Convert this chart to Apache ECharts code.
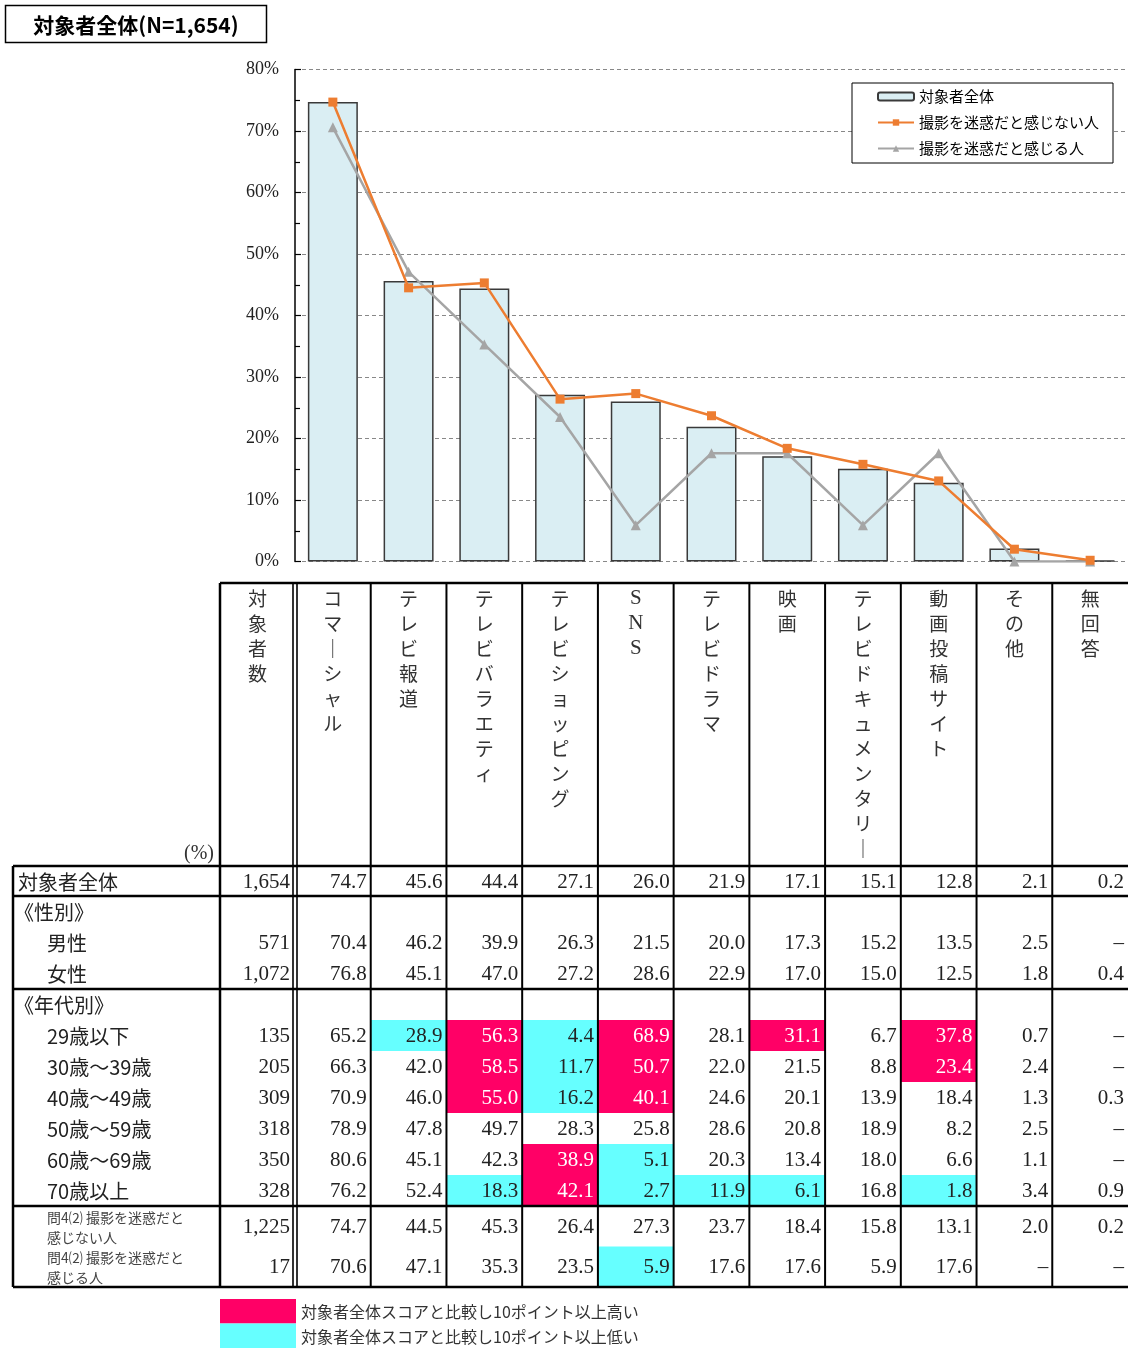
<!DOCTYPE html>
<html><head><meta charset="utf-8">
<script src="https://cdn.jsdelivr.net/npm/echarts@6/dist/echarts.min.js"></script>
<style>html,body{margin:0;padding:0;background:#fff}#c{width:1128px;height:1348px}</style>
</head><body><div id="c"></div>
<script>
// ---------------- DATA ----------------
const categories = ['コマーシャル','テレビ報道','テレビバラエティ','テレビショッピング','ＳＮＳ','テレビドラマ','映画','テレビドキュメンタリー','動画投稿サイト','その他','無回答'];
const yTickValues = [0,10,20,30,40,50,60,70,80];
const seriesNames = ['対象者全体','撮影を迷惑だと感じない人','撮影を迷惑だと感じる人'];

const rowLabels = ['対象者全体','《性別》','男性','女性','《年代別》','29歳以下','30歳～39歳','40歳～49歳','50歳～59歳','60歳～69歳','70歳以上','問4⑵ 撮影を迷惑だと\n感じない人','問4⑵ 撮影を迷惑だと\n感じる人'];
const rowCounts = [1654, null, 571, 1072, null, 135, 205, 309, 318, 350, 328, 1225, 17];

const totalValues  = [74.7, 45.6, 44.4, 27.1, 26.0, 21.9, 17.1, 15.1, 12.8, 2.1, 0.2];
const maleValues   = [70.4, 46.2, 39.9, 26.3, 21.5, 20.0, 17.3, 15.2, 13.5, 2.5, null];
const femaleValues = [76.8, 45.1, 47.0, 27.2, 28.6, 22.9, 17.0, 15.0, 12.5, 1.8, 0.4];
const age29Values  = [65.2, 28.9, 56.3, 4.4, 68.9, 28.1, 31.1, 6.7, 37.8, 0.7, null];
const age30Values  = [66.3, 42.0, 58.5, 11.7, 50.7, 22.0, 21.5, 8.8, 23.4, 2.4, null];
const age40Values  = [70.9, 46.0, 55.0, 16.2, 40.1, 24.6, 20.1, 13.9, 18.4, 1.3, 0.3];
const age50Values  = [78.9, 47.8, 49.7, 28.3, 25.8, 28.6, 20.8, 18.9, 8.2, 2.5, null];
const age60Values  = [80.6, 45.1, 42.3, 38.9, 5.1, 20.3, 13.4, 18.0, 6.6, 1.1, null];
const age70Values  = [76.2, 52.4, 18.3, 42.1, 2.7, 11.9, 6.1, 16.8, 1.8, 3.4, 0.9];
const notMindValues = [74.7, 44.5, 45.3, 26.4, 27.3, 23.7, 18.4, 15.8, 13.1, 2.0, 0.2];
const mindValues    = [70.6, 47.1, 35.3, 23.5, 5.9, 17.6, 17.6, 5.9, 17.6, null, null];

const rowValues = [totalValues, null, maleValues, femaleValues, null, age29Values, age30Values, age40Values, age50Values, age60Values, age70Values, notMindValues, mindValues];
const rowKinds  = ['main','group','item','item','group','item','item','item','item','item','item','q4','q4'];

const footNotes = ['対象者全体スコアと比較し10ポイント以上高い','対象者全体スコアと比較し10ポイント以上低い'];

// ---------------- LAYOUT / STYLE ----------------
const C_HIGH = '#FF0066', C_LOW = '#66FFFF';
const SERIF = '"Liberation Serif", "DejaVu Serif", serif';
const SANS = '"Noto Sans CJK JP", "Noto Sans", sans-serif';
const TBL = {left:13, top:583, w:1115, h:704, labelW:207, countW:75, headerH:283};
const ROW_H = {main:30, group:31, item:31, q4:40.5};

const colEdges = [0, TBL.labelW, TBL.labelW + TBL.countW];
const catW = (TBL.w - colEdges[2]) / categories.length;
for (let i = 1; i <= categories.length; i++) colEdges.push(colEdges[2] + i * catW);
const rowEdges = [0, TBL.headerH];
rowKinds.forEach(k => rowEdges.push(rowEdges[rowEdges.length - 1] + ROW_H[k]));

function fmtCount(n){ return n.toLocaleString('en-US'); }
function fmtVal(v){ return v === null ? '–' : v.toFixed(1); }
function vertical(s){ return s.replace(/ー/g,'｜').split('').join('\n'); }

// ---------------- TABLE CELLS ----------------
const cells = [];
cells.push({x0:0, y0:0, x1:colEdges[1], y1:rowEdges[1], text:'(%)', align:'right', valign:'bottom', pad:6, font:SERIF, size:20, color:'#333'});
cells.push({x0:colEdges[1], y0:0, x1:colEdges[2], y1:rowEdges[1], text:vertical('対象者数'), align:'center', valign:'top', font:SANS, size:19, lh:25, color:'#333'});
categories.forEach((cat, j) => {
  const isLatin = cat === 'ＳＮＳ';
  cells.push({x0:colEdges[j+2], y0:0, x1:colEdges[j+3], y1:rowEdges[1], text: isLatin ? vertical('SNS') : vertical(cat), align:'center', valign:'top', font: isLatin ? SERIF : SANS, size: isLatin ? 21 : 19, lh:25, color:'#333'});
});
rowLabels.forEach((lab, r) => {
  const y0 = rowEdges[r+1], y1 = rowEdges[r+2], kind = rowKinds[r];
  const indent = kind === 'main' ? 5 : kind === 'group' ? 1 : 34;
  cells.push({x0:0, y0, x1:colEdges[1], y1, text:lab, align:'left', pad:indent, valign:'middle', font:SANS, size: kind === 'q4' ? 14 : 20, lh: kind === 'q4' ? 20 : undefined, color: kind === 'q4' ? '#444' : '#222'});
  if (rowCounts[r] !== null) {
    cells.push({x0:colEdges[1], y0, x1:colEdges[2], y1, text:fmtCount(rowCounts[r]), align:'right', pad:5, valign:'middle', font:SERIF, size:21, color:'#222'});
  }
  const vals = rowValues[r];
  if (vals) {
    vals.forEach((v, j) => {
      let fill = null, color = '#222';
      if (r > 0 && v !== null) {
        const d = Math.round((v - totalValues[j]) * 10);
        if (d >= 100) { fill = C_HIGH; color = '#fff'; }
        else if (d <= -100) { fill = C_LOW; }
      }
      cells.push({x0:colEdges[j+2], y0, x1:colEdges[j+3], y1, text:fmtVal(v), align:'right', pad:4, valign:'middle', font:SERIF, size:21, color, fill});
    });
  }
});

// ---------------- TABLE BORDERS ----------------
const borders = [];
const bodyTop = rowEdges[1];
borders.push([colEdges[1], 0, TBL.w, 0, 2.5]);
[1, 2, 5, 12, 14].forEach(i => borders.push([0, rowEdges[i], TBL.w, rowEdges[i], 2.5]));
borders.push([0, bodyTop, 0, TBL.h, 2.5]);
borders.push([colEdges[1], 0, colEdges[1], TBL.h, 2.5]);
borders.push([colEdges[2]-2, 0, colEdges[2]-2, TBL.h, 1.6]);
borders.push([colEdges[2]+2, 0, colEdges[2]+2, TBL.h, 1.6]);
for (let i = 3; i < colEdges.length - 1; i++) borders.push([colEdges[i], 0, colEdges[i], TBL.h, 2]);

// ---------------- CHART ----------------
const chart = echarts.init(document.getElementById('c'), null, {renderer:'canvas'});
const option = {
  animation:false,
  backgroundColor:'#fff',
  textStyle:{fontFamily:SANS},
  grid:[
    {left:295, top:69.5, width:833, height:492},
    {left:TBL.left, top:TBL.top, width:TBL.w, height:TBL.h}
  ],
  xAxis:[
    {gridIndex:0, type:'category', data:categories, boundaryGap:true, axisLine:{show:false}, axisTick:{show:false}, axisLabel:{show:false}, splitLine:{show:false}},
    {gridIndex:1, type:'value', min:0, max:TBL.w, show:false}
  ],
  yAxis:[
    {gridIndex:0, type:'value', min:yTickValues[0], max:yTickValues[yTickValues.length-1], interval:10,
     axisLine:{show:true, lineStyle:{color:'#000', width:1.5}},
     axisTick:{show:true, inside:true, length:6, lineStyle:{color:'#000', width:1.2}},
     minorTick:{show:true, splitNumber:2, length:5, lineStyle:{color:'#000', width:1.2}},
     axisLabel:{formatter:'{value}%', fontFamily:SERIF, fontSize:18, color:'#222', margin:16, padding:[4,0,0,0]},
     splitLine:{show:true, lineStyle:{color:'#888', width:1, type:[4,3]}}},
    {gridIndex:1, type:'value', min:0, max:TBL.h, inverse:true, show:false}
  ],
  legend:{
    orient:'vertical', left:852, top:83, itemWidth:36, itemHeight:8, itemGap:11,
    padding:[6,14,7,25], borderColor:'#000', borderWidth:1, backgroundColor:'#fff',
    textStyle:{fontSize:15, fontFamily:SANS, color:'#000'},
    data:seriesNames, selectedMode:false
  },
  graphic:[
    {type:'rect', shape:{x:5.5, y:5.5, width:261, height:37}, style:{fill:'#fff', stroke:'#000', lineWidth:1.5}},
    {type:'text', x:136, y:25, style:{text:'対象者全体(N=1,654)', fontSize:21, fontFamily:SANS, fontWeight:'bold', fill:'#000', align:'center', verticalAlign:'middle'}},
    {type:'rect', shape:{x:220, y:1299, width:76, height:24.5}, style:{fill:C_HIGH}},
    {type:'rect', shape:{x:220, y:1323.5, width:76, height:24.5}, style:{fill:C_LOW}},
    {type:'text', x:301, y:1312, style:{text:footNotes[0], fontSize:16, fontFamily:SANS, fill:'#333', verticalAlign:'middle'}},
    {type:'text', x:301, y:1337, style:{text:footNotes[1], fontSize:16, fontFamily:SANS, fill:'#333', verticalAlign:'middle'}}
  ],
  series:[
    {name:seriesNames[0], type:'bar', xAxisIndex:0, yAxisIndex:0, data:totalValues, barWidth:'66%',
     itemStyle:{color:'#DAEEF3', borderColor:'#3a3a3a', borderWidth:1.5}, z:2},
    {name:seriesNames[1], type:'line', xAxisIndex:0, yAxisIndex:0, data:notMindValues,
     symbol:'rect', symbolSize:9, lineStyle:{color:'#ED7D31', width:2.5}, itemStyle:{color:'#ED7D31'}, z:4},
    {name:seriesNames[2], type:'line', xAxisIndex:0, yAxisIndex:0, data:mindValues.map(v => v === null ? 0 : v),
     symbol:'triangle', symbolSize:10, lineStyle:{color:'#A5A5A5', width:2.5}, itemStyle:{color:'#A5A5A5'}, z:3},
    {type:'custom', xAxisIndex:1, yAxisIndex:1, silent:true, clip:false,
     data:cells.map(c => [c.x0, c.y0, c.x1, c.y1]),
     renderItem:function(params, api){
       const c = cells[params.dataIndex];
       const p0 = api.coord([api.value(0), api.value(1)]);
       const p1 = api.coord([api.value(2), api.value(3)]);
       const children = [];
       if (c.fill) children.push({type:'rect', shape:{x:p0[0], y:p0[1], width:p1[0]-p0[0], height:p1[1]-p0[1]}, style:{fill:c.fill}});
       let tx, ty;
       if (c.align === 'left') tx = p0[0] + (c.pad || 0);
       else if (c.align === 'right') tx = p1[0] - (c.pad || 0);
       else tx = (p0[0] + p1[0]) / 2;
       if (c.valign === 'top') ty = p0[1] + 3;
       else if (c.valign === 'bottom') ty = p1[1] - 2;
       else ty = (p0[1] + p1[1]) / 2 + 1;
       const st = {text:c.text, x:tx, y:ty, fill:c.color, fontSize:c.size, fontFamily:c.font, align:c.align, verticalAlign:c.valign};
       if (c.lh) st.lineHeight = c.lh;
       children.push({type:'text', style:st});
       return {type:'group', children};
     }, z:5},
    {type:'custom', xAxisIndex:1, yAxisIndex:1, silent:true, clip:false,
     data:borders,
     renderItem:function(params, api){
       const a = api.coord([api.value(0), api.value(1)]);
       const b = api.coord([api.value(2), api.value(3)]);
       return {type:'line', shape:{x1:a[0], y1:a[1], x2:b[0], y2:b[1]}, style:{stroke:'#000', lineWidth:api.value(4)}};
     }, z:6}
  ]
};
chart.setOption(option);
</script>
</body></html>
